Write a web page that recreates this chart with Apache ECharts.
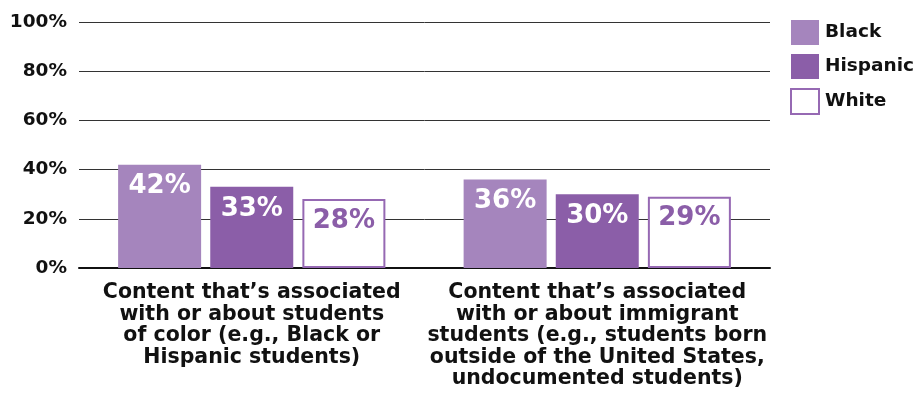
<!DOCTYPE html>
<html><head><meta charset="utf-8">
<script src="https://cdn.jsdelivr.net/npm/echarts@6/dist/echarts.min.js"></script>
<style>html,body{margin:0;padding:0;background:#fff}#c{width:923px;height:413px}</style>
</head><body><div id="c"></div>
<script>
const categories = [
  "Content that\u2019s associated\nwith or about students\nof color (e.g., Black or\nHispanic students)",
  "Content that\u2019s associated\nwith or about immigrant\nstudents (e.g., students born\noutside of the United States,\nundocumented students)"
];
const seriesNames = ["Black", "Hispanic", "White"];
const blackVals = [42, 36];
const hispanicVals = [33, 30];
const whiteVals = [28, 29];
const yTicks = [0, 20, 40, 60, 80, 100];

const FONT = "'DejaVu Sans', sans-serif";
const chart = echarts.init(document.getElementById('c'), null, {renderer: 'canvas'});
const lbl = (color) => ({
  show: true, position: 'insideTop', distance: 9,
  formatter: '{c}%', color: color, fontFamily: FONT, fontWeight: 'bold', fontSize: 26
});
chart.setOption({
  animation: false,
  grid: {left: 79, right: 153, top: 22, bottom: 145},
  legend: {
    left: 790, top: 20, padding: 0, orient: 'vertical', icon: 'rect',
    itemWidth: 28, itemHeight: 25, itemGap: 9,
    textStyle: {fontFamily: FONT, fontSize: 18.5, fontWeight: 'bold', color: '#111', padding: [0,0,0,1]},
    data: seriesNames
  },
  xAxis: {
    type: 'category', data: categories,
    axisLine: {lineStyle: {color: '#111', width: 2}},
    axisTick: {show: false},
    axisLabel: {fontFamily: FONT, fontWeight: 'bold', fontSize: 20.5, color: '#111', lineHeight: 21.5, margin: 14, interval: 0}
  },
  yAxis: {
    type: 'value', min: yTicks[0], max: yTicks[yTicks.length-1], interval: 20,
    axisLabel: {formatter: '{value}%', fontFamily: FONT, fontWeight: 'bold', fontSize: 18.5, color: '#111', margin: 12},
    axisLine: {show: false}, axisTick: {show: false},
    splitLine: {lineStyle: {color: '#333', width: 1}}
  },
  series: [
    {name: seriesNames[0], type: 'bar', data: blackVals, barWidth: 83, barGap: '11%',
     itemStyle: {color: '#a585bd'}, label: lbl('#fff')},
    {name: seriesNames[1], type: 'bar', data: hispanicVals, barWidth: 83,
     itemStyle: {color: '#8b5ea8'}, label: lbl('#fff')},
    {name: seriesNames[2], type: 'bar', data: whiteVals, barWidth: 83,
     itemStyle: {color: '#fff', borderColor: '#9669b3', borderWidth: 2}, label: lbl('#8b5ea8')}
  ]
});
</script></body></html>
